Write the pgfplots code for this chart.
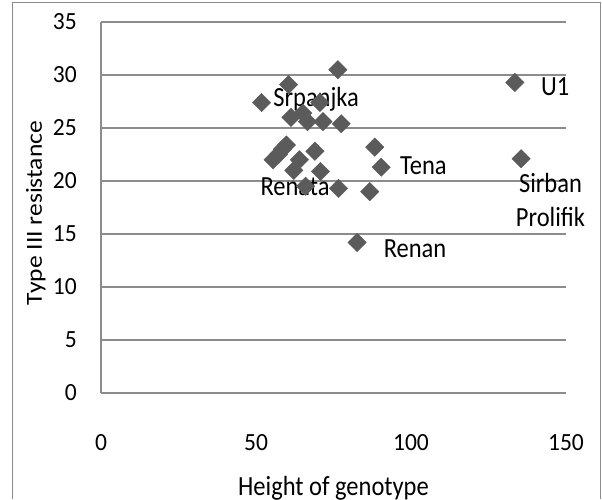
\documentclass[border=0pt]{standalone}
\usepackage{pgfplots}
\pgfplotsset{compat=1.18}
\usepackage{fontspec}
\setmainfont{Carlito}
\definecolor{gridgray}{HTML}{8C8C8C}
\definecolor{markgray}{HTML}{5B5B5B}
\newcommand{\bigf}{\fontsize{24.5}{29}\selectfont}
\newcommand{\tickf}{\fontsize{23.5}{28}\selectfont}
\newcommand{\ylf}{\fontsize{23}{28}\selectfont}
\tikzset{datalbl/.style={font=\bigf, anchor=center, inner sep=0pt, yscale=1.13}}
\begin{document}
\begin{tikzpicture}
\useasboundingbox (0,0) rectangle (602pt,499pt);
\draw[gridgray, line width=1pt] (12pt,0pt) -- (12pt,496pt) -- (600pt,496pt) -- (600pt,0pt);
\begin{axis}[
  at={(101pt,106pt)}, anchor=south west,
  scale only axis, width=465pt, height=371pt,
  xmin=0, xmax=150, ymin=0, ymax=35,
  xtick={0,50,100,150}, ytick={0,5,...,35},
  font=\bigf,
  /pgf/number format/assume math mode=true,
  axis x line*=bottom, axis y line*=left,
  x axis line style={gridgray, line width=1.2pt, -},
  y axis line style={gridgray, line width=1.2pt, -},
  ymajorgrids, major grid style={gridgray, line width=1.2pt},
  major tick length=0pt,
  every tick label/.append style={font=\tickf, yscale=1.05},
  xticklabel style={anchor=north, inner sep=0pt, yshift=-39pt},
  yticklabel style={anchor=east, inner sep=0pt, xshift=-24pt},
  xlabel={Height of genotype},
  ylabel={Type III resistance},
  xlabel style={font=\bigf, at={(axis description cs:0.5,-0.275)}, anchor=base, inner sep=0pt, yscale=1.13},
  ylabel style={font=\ylf, at={(axis description cs:-0.14,0.485)}, anchor=center, inner sep=0pt, xscale=1.11},
  clip=false,
]
\addplot[only marks, mark=square*, mark size=6.5pt,
  mark options={rotate=45, fill=markgray, draw=markgray}] coordinates {
  (76.4,30.5) (133.5,29.3) (60.5,29.1) (51.8,27.4) (70.6,27.4)
  (61.3,26.0) (65.1,26.4) (66.6,25.6) (71.6,25.6) (77.5,25.4)
  (59.8,23.4) (58.5,23.0) (57.2,22.5) (55.5,22.0) (69.0,22.8)
  (64.0,22.0) (62.2,21.0) (70.8,20.9) (66.0,19.5) (76.6,19.3)
  (86.7,19.0) (88.3,23.2) (90.4,21.3) (82.6,14.2) (135.5,22.1)
};
\node[datalbl] at (axis cs:69.4,27.7) {Srpanjka};
\node[datalbl] at (axis cs:62.6,19.5) {Renata};
\node[datalbl] at (axis cs:104,21.4) {Tena};
\node[datalbl] at (axis cs:101.3,13.6) {Renan};
\node[datalbl] at (axis cs:146.5,28.9) {U1};
\node[datalbl, align=center] at (axis cs:145,18.2) {Sirban\\[1pt]Prolifik};
\end{axis}
\end{tikzpicture}
\end{document}
